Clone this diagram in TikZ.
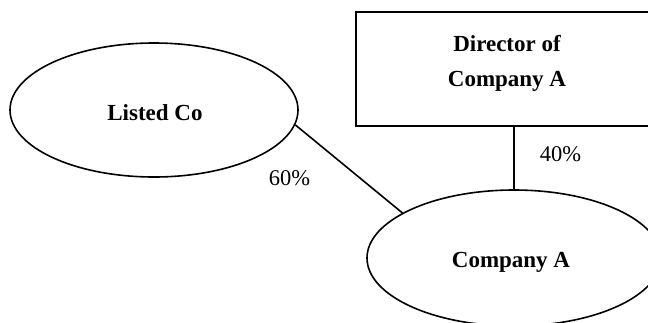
\documentclass[tikz,border=0pt]{standalone}
\usepackage{fontspec}
\setmainfont{Liberation Serif}
\usetikzlibrary{shapes.geometric}
\begin{document}
\begin{tikzpicture}[x=1pt,y=-1pt,line width=1.6pt,
  entity/.style={draw,ellipse,inner sep=0pt},
  boxed/.style={draw,rectangle,inner sep=0pt},
  title/.style={font=\fontsize{23}{35}\selectfont\bfseries,anchor=base,inner sep=0pt},
  share/.style={font=\fontsize{22.5}{27}\selectfont,anchor=base west,inner sep=0pt}]
\useasboundingbox (0,0) rectangle (648,322);
\clip (0,0) rectangle (648,322);

% shapes
\node[entity,minimum width=288pt,minimum height=134pt] (lc) at (154,110) {};
\node[entity,minimum width=294pt,minimum height=136pt] (ca) at (514,258) {};
\node[boxed,minimum width=302pt,minimum height=114pt] (dir) at (507,69) {};

% labels
\node[title] (lcname) at (155,120) {Listed Co};
\node[title] (dirname1) at (507,51) {Director of};
\node[title] (dirname2) at (507,86) {Company A};
\node[title] (caname) at (511,267) {Company A};

% shareholdings
\draw (lc.-6.9) -- (ca.158.7);
\draw (ca.north |- dir.south) -- (ca.north);
\node[share] (p60) at (268,185) {60\%};
\node[share] (p40) at (539,161) {40\%};
\end{tikzpicture}
\end{document}
